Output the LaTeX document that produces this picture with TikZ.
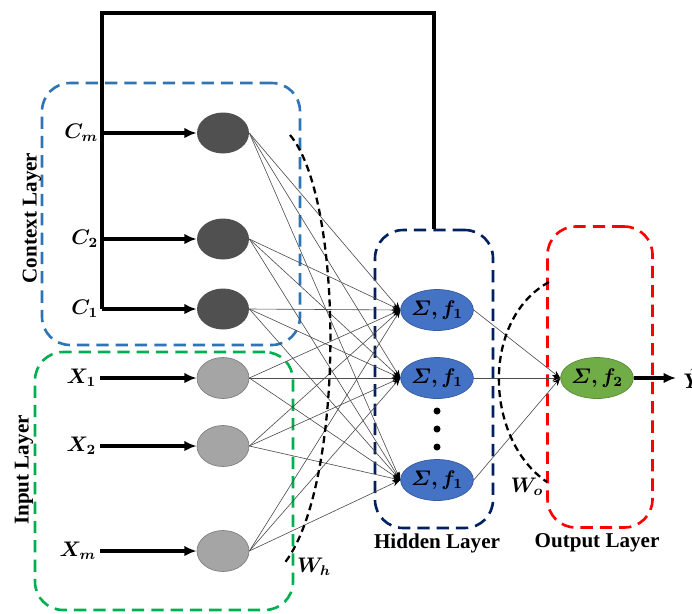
\documentclass[tikz,border=0pt]{standalone}
\usepackage{fontspec}
\setmainfont{Liberation Serif}
\usepackage{amsmath,bm}
\usetikzlibrary{shapes.geometric,arrows.meta}
\definecolor{ctxgray}{RGB}{80,80,80}
\definecolor{ingray}{RGB}{165,165,165}
\definecolor{hidblue}{RGB}{68,114,196}
\definecolor{outgreen}{RGB}{112,173,71}
\definecolor{ctxblue}{RGB}{46,117,182}
\definecolor{ingreen}{RGB}{0,176,80}
\definecolor{navy}{RGB}{0,32,96}
\begin{document}
\begin{tikzpicture}[x=0.02cm,y=-0.02cm,
  neuron/.style={ellipse,minimum width=1.04cm,minimum height=0.82cm,inner sep=0pt,font=\large},
  layerbox/.style={draw=#1,line width=1.5pt,dash pattern=on 7pt off 4pt,rounded corners=16pt,inner sep=0pt},
  inarrow/.style={line width=1.8pt,-{Latex[length=7pt,width=6pt]}},
  wire/.style={draw=gray!60!black,line width=0.35pt,-{Stealth[length=4.5pt,width=3.5pt,black]}},
  warc/.style={line width=1.3pt,dash pattern=on 4pt off 2.5pt},
  layerlbl/.style={font=\fontsize{12}{14}\selectfont\bfseries}]
\useasboundingbox (0,0) rectangle (692,613);
% layer boxes
\node[layerbox=ctxblue,minimum width=5.16cm,minimum height=5.24cm] (ctxbox) at (171,214) {};
\node[layerbox=ingreen,minimum width=5.16cm,minimum height=5.16cm] (inbox) at (164,481) {};
\node[layerbox=navy,minimum width=2.36cm,minimum height=5.96cm] (hidbox) at (434,379) {};
\node[layerbox=red,minimum width=2.1cm,minimum height=6.02cm] (outbox) at (600,377) {};
\node[layerlbl,rotate=90] (ctxlbl) at (32,218) {Context Layer};
\node[layerlbl,rotate=90] (inlbl) at (24,470) {Input Layer};
\node[layerlbl] (hidlbl) at (437,543) {Hidden Layer};
\node[layerlbl] (outlbl) at (597,543) {Output Layer};
% neurons
\node[neuron,fill=ctxgray] (cm) at (223,133) {};
\node[neuron,fill=ctxgray] (c2) at (223,239) {};
\node[neuron,fill=ctxgray] (c1) at (223,309) {};
\node[neuron,fill=ingray,draw=gray] (x1) at (223,378) {};
\node[neuron,fill=ingray,draw=gray] (x2) at (223,446) {};
\node[neuron,fill=ingray,draw=gray] (xm) at (223,551) {};
\node[neuron,fill=hidblue,draw=hidblue!80!black] (h1) at (437,310) {$\bm{\varSigma, f_1}$};
\node[neuron,fill=hidblue,draw=hidblue!80!black] (h2) at (437,378) {$\bm{\varSigma, f_1}$};
\node[neuron,fill=hidblue,draw=hidblue!80!black] (h3) at (437,480) {$\bm{\varSigma, f_1}$};
\node[neuron,fill=outgreen,draw=outgreen!80!black] (o) at (597,378) {$\bm{\varSigma, f_2}$};
\foreach \y in {411,429,447} \fill (437,\y) circle (2pt);
% inputs
\coordinate (scm) at (102,133);
\coordinate (sc2) at (102,239);
\coordinate (sc1) at (102,309);
\coordinate (sx1) at (100,378);
\coordinate (sx2) at (100,446);
\coordinate (sxm) at (100,551);
\foreach \s/\t/\l in {scm/cm/C_m,sc2/c2/C_2,sc1/c1/C_1,sx1/x1/X_1,sx2/x2/X_2,sxm/xm/X_m}{
  \draw[inarrow] (\s) -- (\t);
  \node[anchor=east,inner sep=2pt,font=\large] (l\t) at (\s) {$\bm{\l}$};
}
% feedback
\draw[line width=2.8pt] (sc1) -- (102,13) -| (hidbox.north);
% weights
\foreach \s in {cm,c2,c1,x1,x2,xm}
  \foreach \t in {h1,h2,h3}
    \draw[wire] (\s.east) -- (\t.west);
\foreach \t in {h1,h2,h3} \draw[wire] (\t.east) -- (o.west);
\coordinate (yend) at (676,378);
\draw[inarrow] (o) -- (yend);
\node[anchor=west,inner sep=0pt,font=\large] (yhat) at (683,378) {$\bm{\hat{Y}}$};
\draw[warc] (290,135) .. controls (345,200) and (345,490) .. (283,565);
\node[font=\large] (wh) at (314,567) {$\bm{W_h}$};
\draw[warc] (549,282) .. controls (480,320) and (485,440) .. (547,482);
\node[font=\large] (wo) at (527,487) {$\bm{W_o}$};
\end{tikzpicture}
\end{document}
